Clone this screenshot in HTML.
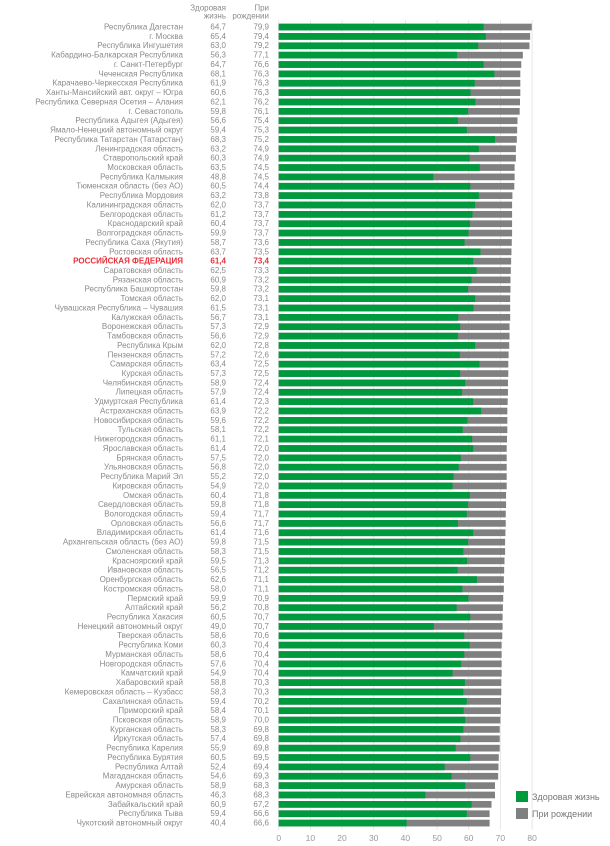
<!DOCTYPE html>
<html><head><meta charset="utf-8"><style>
html,body{margin:0;padding:0;background:#fff;}
svg{display:block;}
text{font-family:"Liberation Sans",sans-serif;font-size:8px;fill:#8a8a8a;text-anchor:end;dominant-baseline:central;}
.t{fill:#808080}.h{fill:#009a3e}
.rf text{fill:#e8303a;font-weight:bold}
.ax text{text-anchor:middle;fill:#999;font-size:8.5px}
.lg text{text-anchor:start;font-size:9px;fill:#777}
</style></head><body>
<svg width="610" height="846" viewBox="0 0 610 846" xmlns="http://www.w3.org/2000/svg">
<g stroke="#e2e2e2" stroke-width="0.8">
<line x1="278.7" y1="20" x2="278.7" y2="830"/><line x1="310.4" y1="20" x2="310.4" y2="830"/><line x1="342" y1="20" x2="342" y2="830"/><line x1="373.7" y1="20" x2="373.7" y2="830"/><line x1="405.4" y1="20" x2="405.4" y2="830"/><line x1="437.1" y1="20" x2="437.1" y2="830"/><line x1="468.7" y1="20" x2="468.7" y2="830"/><line x1="500.4" y1="20" x2="500.4" y2="830"/><line x1="532.1" y1="20" x2="532.1" y2="830"/>
</g>
<text x="226" y="8">Здоровая</text><text x="226" y="16">жизнь</text>
<text x="269" y="8">При</text><text x="269" y="16">рождении</text>
<g id="rows">
<g transform="translate(0,27)"><text x="183">Республика Дагестан</text><text x="226">64,7</text><text x="269">79,9</text><g transform="translate(278.7,0) scale(3.1667,1)"><rect class="t" y="-3.3" height="6.7" width="79.9"/><rect class="h" y="-3.3" height="6.7" width="64.7"/></g></g>
<g transform="translate(0,36.37)"><text x="183">г. Москва</text><text x="226">65,4</text><text x="269">79,4</text><g transform="translate(278.7,0) scale(3.1667,1)"><rect class="t" y="-3.3" height="6.7" width="79.4"/><rect class="h" y="-3.3" height="6.7" width="65.4"/></g></g>
<g transform="translate(0,45.73)"><text x="183">Республика Ингушетия</text><text x="226">63,0</text><text x="269">79,2</text><g transform="translate(278.7,0) scale(3.1667,1)"><rect class="t" y="-3.3" height="6.7" width="79.2"/><rect class="h" y="-3.3" height="6.7" width="63.0"/></g></g>
<g transform="translate(0,55.10)"><text x="183">Кабардино-Балкарская Республика</text><text x="226">56,3</text><text x="269">77,1</text><g transform="translate(278.7,0) scale(3.1667,1)"><rect class="t" y="-3.3" height="6.7" width="77.1"/><rect class="h" y="-3.3" height="6.7" width="56.3"/></g></g>
<g transform="translate(0,64.46)"><text x="183">г. Санкт-Петербург</text><text x="226">64,7</text><text x="269">76,6</text><g transform="translate(278.7,0) scale(3.1667,1)"><rect class="t" y="-3.3" height="6.7" width="76.6"/><rect class="h" y="-3.3" height="6.7" width="64.7"/></g></g>
<g transform="translate(0,73.83)"><text x="183">Чеченская Республика</text><text x="226">68,1</text><text x="269">76,3</text><g transform="translate(278.7,0) scale(3.1667,1)"><rect class="t" y="-3.3" height="6.7" width="76.3"/><rect class="h" y="-3.3" height="6.7" width="68.1"/></g></g>
<g transform="translate(0,83.19)"><text x="183">Карачаево-Черкесская Республика</text><text x="226">61,9</text><text x="269">76,3</text><g transform="translate(278.7,0) scale(3.1667,1)"><rect class="t" y="-3.3" height="6.7" width="76.3"/><rect class="h" y="-3.3" height="6.7" width="61.9"/></g></g>
<g transform="translate(0,92.56)"><text x="183">Ханты-Мансийский авт. округ – Югра</text><text x="226">60,6</text><text x="269">76,3</text><g transform="translate(278.7,0) scale(3.1667,1)"><rect class="t" y="-3.3" height="6.7" width="76.3"/><rect class="h" y="-3.3" height="6.7" width="60.6"/></g></g>
<g transform="translate(0,101.92)"><text x="183">Республика Северная Осетия – Алания</text><text x="226">62,1</text><text x="269">76,2</text><g transform="translate(278.7,0) scale(3.1667,1)"><rect class="t" y="-3.3" height="6.7" width="76.2"/><rect class="h" y="-3.3" height="6.7" width="62.1"/></g></g>
<g transform="translate(0,111.29)"><text x="183">г. Севастополь</text><text x="226">59,8</text><text x="269">76,1</text><g transform="translate(278.7,0) scale(3.1667,1)"><rect class="t" y="-3.3" height="6.7" width="76.1"/><rect class="h" y="-3.3" height="6.7" width="59.8"/></g></g>
<g transform="translate(0,120.65)"><text x="183">Республика Адыгея (Адыгея)</text><text x="226">56,6</text><text x="269">75,4</text><g transform="translate(278.7,0) scale(3.1667,1)"><rect class="t" y="-3.3" height="6.7" width="75.4"/><rect class="h" y="-3.3" height="6.7" width="56.6"/></g></g>
<g transform="translate(0,130.02)"><text x="183">Ямало-Ненецкий автономный округ</text><text x="226">59,4</text><text x="269">75,3</text><g transform="translate(278.7,0) scale(3.1667,1)"><rect class="t" y="-3.3" height="6.7" width="75.3"/><rect class="h" y="-3.3" height="6.7" width="59.4"/></g></g>
<g transform="translate(0,139.38)"><text x="183">Республика Татарстан (Татарстан)</text><text x="226">68,3</text><text x="269">75,2</text><g transform="translate(278.7,0) scale(3.1667,1)"><rect class="t" y="-3.3" height="6.7" width="75.2"/><rect class="h" y="-3.3" height="6.7" width="68.3"/></g></g>
<g transform="translate(0,148.75)"><text x="183">Ленинградская область</text><text x="226">63,2</text><text x="269">74,9</text><g transform="translate(278.7,0) scale(3.1667,1)"><rect class="t" y="-3.3" height="6.7" width="74.9"/><rect class="h" y="-3.3" height="6.7" width="63.2"/></g></g>
<g transform="translate(0,158.11)"><text x="183">Ставропольский край</text><text x="226">60,3</text><text x="269">74,9</text><g transform="translate(278.7,0) scale(3.1667,1)"><rect class="t" y="-3.3" height="6.7" width="74.9"/><rect class="h" y="-3.3" height="6.7" width="60.3"/></g></g>
<g transform="translate(0,167.48)"><text x="183">Московская область</text><text x="226">63,5</text><text x="269">74,5</text><g transform="translate(278.7,0) scale(3.1667,1)"><rect class="t" y="-3.3" height="6.7" width="74.5"/><rect class="h" y="-3.3" height="6.7" width="63.5"/></g></g>
<g transform="translate(0,176.84)"><text x="183">Республика Калмыкия</text><text x="226">48,8</text><text x="269">74,5</text><g transform="translate(278.7,0) scale(3.1667,1)"><rect class="t" y="-3.3" height="6.7" width="74.5"/><rect class="h" y="-3.3" height="6.7" width="48.8"/></g></g>
<g transform="translate(0,186.21)"><text x="183">Тюменская область (без АО)</text><text x="226">60,5</text><text x="269">74,4</text><g transform="translate(278.7,0) scale(3.1667,1)"><rect class="t" y="-3.3" height="6.7" width="74.4"/><rect class="h" y="-3.3" height="6.7" width="60.5"/></g></g>
<g transform="translate(0,195.57)"><text x="183">Республика Мордовия</text><text x="226">63,2</text><text x="269">73,8</text><g transform="translate(278.7,0) scale(3.1667,1)"><rect class="t" y="-3.3" height="6.7" width="73.8"/><rect class="h" y="-3.3" height="6.7" width="63.2"/></g></g>
<g transform="translate(0,204.94)"><text x="183">Калининградская область</text><text x="226">62,0</text><text x="269">73,7</text><g transform="translate(278.7,0) scale(3.1667,1)"><rect class="t" y="-3.3" height="6.7" width="73.7"/><rect class="h" y="-3.3" height="6.7" width="62.0"/></g></g>
<g transform="translate(0,214.3)"><text x="183">Белгородская область</text><text x="226">61,2</text><text x="269">73,7</text><g transform="translate(278.7,0) scale(3.1667,1)"><rect class="t" y="-3.3" height="6.7" width="73.7"/><rect class="h" y="-3.3" height="6.7" width="61.2"/></g></g>
<g transform="translate(0,223.67)"><text x="183">Краснодарский край</text><text x="226">60,4</text><text x="269">73,7</text><g transform="translate(278.7,0) scale(3.1667,1)"><rect class="t" y="-3.3" height="6.7" width="73.7"/><rect class="h" y="-3.3" height="6.7" width="60.4"/></g></g>
<g transform="translate(0,233.03)"><text x="183">Волгоградская область</text><text x="226">59,9</text><text x="269">73,7</text><g transform="translate(278.7,0) scale(3.1667,1)"><rect class="t" y="-3.3" height="6.7" width="73.7"/><rect class="h" y="-3.3" height="6.7" width="59.9"/></g></g>
<g transform="translate(0,242.4)"><text x="183">Республика Саха (Якутия)</text><text x="226">58,7</text><text x="269">73,6</text><g transform="translate(278.7,0) scale(3.1667,1)"><rect class="t" y="-3.3" height="6.7" width="73.6"/><rect class="h" y="-3.3" height="6.7" width="58.7"/></g></g>
<g transform="translate(0,251.76)"><text x="183">Ростовская область</text><text x="226">63,7</text><text x="269">73,5</text><g transform="translate(278.7,0) scale(3.1667,1)"><rect class="t" y="-3.3" height="6.7" width="73.5"/><rect class="h" y="-3.3" height="6.7" width="63.7"/></g></g>
<g class="rf" transform="translate(0,261.13)"><text x="183">РОССИЙСКАЯ ФЕДЕРАЦИЯ</text><text x="226">61,4</text><text x="269">73,4</text><g transform="translate(278.7,0) scale(3.1667,1)"><rect class="t" y="-3.3" height="6.7" width="73.4"/><rect class="h" y="-3.3" height="6.7" width="61.4"/></g></g>
<g transform="translate(0,270.49)"><text x="183">Саратовская область</text><text x="226">62,5</text><text x="269">73,3</text><g transform="translate(278.7,0) scale(3.1667,1)"><rect class="t" y="-3.3" height="6.7" width="73.3"/><rect class="h" y="-3.3" height="6.7" width="62.5"/></g></g>
<g transform="translate(0,279.86)"><text x="183">Рязанская область</text><text x="226">60,9</text><text x="269">73,2</text><g transform="translate(278.7,0) scale(3.1667,1)"><rect class="t" y="-3.3" height="6.7" width="73.2"/><rect class="h" y="-3.3" height="6.7" width="60.9"/></g></g>
<g transform="translate(0,289.22)"><text x="183">Республика Башкортостан</text><text x="226">59,8</text><text x="269">73,2</text><g transform="translate(278.7,0) scale(3.1667,1)"><rect class="t" y="-3.3" height="6.7" width="73.2"/><rect class="h" y="-3.3" height="6.7" width="59.8"/></g></g>
<g transform="translate(0,298.59)"><text x="183">Томская область</text><text x="226">62,0</text><text x="269">73,1</text><g transform="translate(278.7,0) scale(3.1667,1)"><rect class="t" y="-3.3" height="6.7" width="73.1"/><rect class="h" y="-3.3" height="6.7" width="62.0"/></g></g>
<g transform="translate(0,307.95)"><text x="183">Чувашская Республика – Чувашия</text><text x="226">61,5</text><text x="269">73,1</text><g transform="translate(278.7,0) scale(3.1667,1)"><rect class="t" y="-3.3" height="6.7" width="73.1"/><rect class="h" y="-3.3" height="6.7" width="61.5"/></g></g>
<g transform="translate(0,317.32)"><text x="183">Калужская область</text><text x="226">56,7</text><text x="269">73,1</text><g transform="translate(278.7,0) scale(3.1667,1)"><rect class="t" y="-3.3" height="6.7" width="73.1"/><rect class="h" y="-3.3" height="6.7" width="56.7"/></g></g>
<g transform="translate(0,326.68)"><text x="183">Воронежская область</text><text x="226">57,3</text><text x="269">72,9</text><g transform="translate(278.7,0) scale(3.1667,1)"><rect class="t" y="-3.3" height="6.7" width="72.9"/><rect class="h" y="-3.3" height="6.7" width="57.3"/></g></g>
<g transform="translate(0,336.05)"><text x="183">Тамбовская область</text><text x="226">56,6</text><text x="269">72,9</text><g transform="translate(278.7,0) scale(3.1667,1)"><rect class="t" y="-3.3" height="6.7" width="72.9"/><rect class="h" y="-3.3" height="6.7" width="56.6"/></g></g>
<g transform="translate(0,345.41)"><text x="183">Республика Крым</text><text x="226">62,0</text><text x="269">72,8</text><g transform="translate(278.7,0) scale(3.1667,1)"><rect class="t" y="-3.3" height="6.7" width="72.8"/><rect class="h" y="-3.3" height="6.7" width="62.0"/></g></g>
<g transform="translate(0,354.78)"><text x="183">Пензенская область</text><text x="226">57,2</text><text x="269">72,6</text><g transform="translate(278.7,0) scale(3.1667,1)"><rect class="t" y="-3.3" height="6.7" width="72.6"/><rect class="h" y="-3.3" height="6.7" width="57.2"/></g></g>
<g transform="translate(0,364.14)"><text x="183">Самарская область</text><text x="226">63,4</text><text x="269">72,5</text><g transform="translate(278.7,0) scale(3.1667,1)"><rect class="t" y="-3.3" height="6.7" width="72.5"/><rect class="h" y="-3.3" height="6.7" width="63.4"/></g></g>
<g transform="translate(0,373.51)"><text x="183">Курская область</text><text x="226">57,3</text><text x="269">72,5</text><g transform="translate(278.7,0) scale(3.1667,1)"><rect class="t" y="-3.3" height="6.7" width="72.5"/><rect class="h" y="-3.3" height="6.7" width="57.3"/></g></g>
<g transform="translate(0,382.87)"><text x="183">Челябинская область</text><text x="226">58,9</text><text x="269">72,4</text><g transform="translate(278.7,0) scale(3.1667,1)"><rect class="t" y="-3.3" height="6.7" width="72.4"/><rect class="h" y="-3.3" height="6.7" width="58.9"/></g></g>
<g transform="translate(0,392.24)"><text x="183">Липецкая область</text><text x="226">57,9</text><text x="269">72,4</text><g transform="translate(278.7,0) scale(3.1667,1)"><rect class="t" y="-3.3" height="6.7" width="72.4"/><rect class="h" y="-3.3" height="6.7" width="57.9"/></g></g>
<g transform="translate(0,401.6)"><text x="183">Удмуртская Республика</text><text x="226">61,4</text><text x="269">72,3</text><g transform="translate(278.7,0) scale(3.1667,1)"><rect class="t" y="-3.3" height="6.7" width="72.3"/><rect class="h" y="-3.3" height="6.7" width="61.4"/></g></g>
<g transform="translate(0,410.97)"><text x="183">Астраханская область</text><text x="226">63,9</text><text x="269">72,2</text><g transform="translate(278.7,0) scale(3.1667,1)"><rect class="t" y="-3.3" height="6.7" width="72.2"/><rect class="h" y="-3.3" height="6.7" width="63.9"/></g></g>
<g transform="translate(0,420.33)"><text x="183">Новосибирская область</text><text x="226">59,6</text><text x="269">72,2</text><g transform="translate(278.7,0) scale(3.1667,1)"><rect class="t" y="-3.3" height="6.7" width="72.2"/><rect class="h" y="-3.3" height="6.7" width="59.6"/></g></g>
<g transform="translate(0,429.7)"><text x="183">Тульская область</text><text x="226">58,1</text><text x="269">72,2</text><g transform="translate(278.7,0) scale(3.1667,1)"><rect class="t" y="-3.3" height="6.7" width="72.2"/><rect class="h" y="-3.3" height="6.7" width="58.1"/></g></g>
<g transform="translate(0,439.06)"><text x="183">Нижегородская область</text><text x="226">61,1</text><text x="269">72,1</text><g transform="translate(278.7,0) scale(3.1667,1)"><rect class="t" y="-3.3" height="6.7" width="72.1"/><rect class="h" y="-3.3" height="6.7" width="61.1"/></g></g>
<g transform="translate(0,448.43)"><text x="183">Ярославская область</text><text x="226">61,4</text><text x="269">72,0</text><g transform="translate(278.7,0) scale(3.1667,1)"><rect class="t" y="-3.3" height="6.7" width="72.0"/><rect class="h" y="-3.3" height="6.7" width="61.4"/></g></g>
<g transform="translate(0,457.79)"><text x="183">Брянская область</text><text x="226">57,5</text><text x="269">72,0</text><g transform="translate(278.7,0) scale(3.1667,1)"><rect class="t" y="-3.3" height="6.7" width="72.0"/><rect class="h" y="-3.3" height="6.7" width="57.5"/></g></g>
<g transform="translate(0,467.16)"><text x="183">Ульяновская область</text><text x="226">56,8</text><text x="269">72,0</text><g transform="translate(278.7,0) scale(3.1667,1)"><rect class="t" y="-3.3" height="6.7" width="72.0"/><rect class="h" y="-3.3" height="6.7" width="56.8"/></g></g>
<g transform="translate(0,476.52)"><text x="183">Республика Марий Эл</text><text x="226">55,2</text><text x="269">72,0</text><g transform="translate(278.7,0) scale(3.1667,1)"><rect class="t" y="-3.3" height="6.7" width="72.0"/><rect class="h" y="-3.3" height="6.7" width="55.2"/></g></g>
<g transform="translate(0,485.89)"><text x="183">Кировская область</text><text x="226">54,9</text><text x="269">72,0</text><g transform="translate(278.7,0) scale(3.1667,1)"><rect class="t" y="-3.3" height="6.7" width="72.0"/><rect class="h" y="-3.3" height="6.7" width="54.9"/></g></g>
<g transform="translate(0,495.25)"><text x="183">Омская область</text><text x="226">60,4</text><text x="269">71,8</text><g transform="translate(278.7,0) scale(3.1667,1)"><rect class="t" y="-3.3" height="6.7" width="71.8"/><rect class="h" y="-3.3" height="6.7" width="60.4"/></g></g>
<g transform="translate(0,504.62)"><text x="183">Свердловская область</text><text x="226">59,8</text><text x="269">71,8</text><g transform="translate(278.7,0) scale(3.1667,1)"><rect class="t" y="-3.3" height="6.7" width="71.8"/><rect class="h" y="-3.3" height="6.7" width="59.8"/></g></g>
<g transform="translate(0,513.98)"><text x="183">Вологодская область</text><text x="226">59,4</text><text x="269">71,7</text><g transform="translate(278.7,0) scale(3.1667,1)"><rect class="t" y="-3.3" height="6.7" width="71.7"/><rect class="h" y="-3.3" height="6.7" width="59.4"/></g></g>
<g transform="translate(0,523.35)"><text x="183">Орловская область</text><text x="226">56,6</text><text x="269">71,7</text><g transform="translate(278.7,0) scale(3.1667,1)"><rect class="t" y="-3.3" height="6.7" width="71.7"/><rect class="h" y="-3.3" height="6.7" width="56.6"/></g></g>
<g transform="translate(0,532.71)"><text x="183">Владимирская область</text><text x="226">61,4</text><text x="269">71,6</text><g transform="translate(278.7,0) scale(3.1667,1)"><rect class="t" y="-3.3" height="6.7" width="71.6"/><rect class="h" y="-3.3" height="6.7" width="61.4"/></g></g>
<g transform="translate(0,542.08)"><text x="183">Архангельская область (без АО)</text><text x="226">59,8</text><text x="269">71,5</text><g transform="translate(278.7,0) scale(3.1667,1)"><rect class="t" y="-3.3" height="6.7" width="71.5"/><rect class="h" y="-3.3" height="6.7" width="59.8"/></g></g>
<g transform="translate(0,551.44)"><text x="183">Смоленская область</text><text x="226">58,3</text><text x="269">71,5</text><g transform="translate(278.7,0) scale(3.1667,1)"><rect class="t" y="-3.3" height="6.7" width="71.5"/><rect class="h" y="-3.3" height="6.7" width="58.3"/></g></g>
<g transform="translate(0,560.81)"><text x="183">Красноярский край</text><text x="226">59,5</text><text x="269">71,3</text><g transform="translate(278.7,0) scale(3.1667,1)"><rect class="t" y="-3.3" height="6.7" width="71.3"/><rect class="h" y="-3.3" height="6.7" width="59.5"/></g></g>
<g transform="translate(0,570.17)"><text x="183">Ивановская область</text><text x="226">56,5</text><text x="269">71,2</text><g transform="translate(278.7,0) scale(3.1667,1)"><rect class="t" y="-3.3" height="6.7" width="71.2"/><rect class="h" y="-3.3" height="6.7" width="56.5"/></g></g>
<g transform="translate(0,579.54)"><text x="183">Оренбургская область</text><text x="226">62,6</text><text x="269">71,1</text><g transform="translate(278.7,0) scale(3.1667,1)"><rect class="t" y="-3.3" height="6.7" width="71.1"/><rect class="h" y="-3.3" height="6.7" width="62.6"/></g></g>
<g transform="translate(0,588.9)"><text x="183">Костромская область</text><text x="226">58,0</text><text x="269">71,1</text><g transform="translate(278.7,0) scale(3.1667,1)"><rect class="t" y="-3.3" height="6.7" width="71.1"/><rect class="h" y="-3.3" height="6.7" width="58.0"/></g></g>
<g transform="translate(0,598.27)"><text x="183">Пермский край</text><text x="226">59,9</text><text x="269">70,9</text><g transform="translate(278.7,0) scale(3.1667,1)"><rect class="t" y="-3.3" height="6.7" width="70.9"/><rect class="h" y="-3.3" height="6.7" width="59.9"/></g></g>
<g transform="translate(0,607.63)"><text x="183">Алтайский край</text><text x="226">56,2</text><text x="269">70,8</text><g transform="translate(278.7,0) scale(3.1667,1)"><rect class="t" y="-3.3" height="6.7" width="70.8"/><rect class="h" y="-3.3" height="6.7" width="56.2"/></g></g>
<g transform="translate(0,617.0)"><text x="183">Республика Хакасия</text><text x="226">60,5</text><text x="269">70,7</text><g transform="translate(278.7,0) scale(3.1667,1)"><rect class="t" y="-3.3" height="6.7" width="70.7"/><rect class="h" y="-3.3" height="6.7" width="60.5"/></g></g>
<g transform="translate(0,626.36)"><text x="183">Ненецкий автономный округ</text><text x="226">49,0</text><text x="269">70,7</text><g transform="translate(278.7,0) scale(3.1667,1)"><rect class="t" y="-3.3" height="6.7" width="70.7"/><rect class="h" y="-3.3" height="6.7" width="49.0"/></g></g>
<g transform="translate(0,635.73)"><text x="183">Тверская область</text><text x="226">58,6</text><text x="269">70,6</text><g transform="translate(278.7,0) scale(3.1667,1)"><rect class="t" y="-3.3" height="6.7" width="70.6"/><rect class="h" y="-3.3" height="6.7" width="58.6"/></g></g>
<g transform="translate(0,645.09)"><text x="183">Республика Коми</text><text x="226">60,3</text><text x="269">70,4</text><g transform="translate(278.7,0) scale(3.1667,1)"><rect class="t" y="-3.3" height="6.7" width="70.4"/><rect class="h" y="-3.3" height="6.7" width="60.3"/></g></g>
<g transform="translate(0,654.46)"><text x="183">Мурманская область</text><text x="226">58,6</text><text x="269">70,4</text><g transform="translate(278.7,0) scale(3.1667,1)"><rect class="t" y="-3.3" height="6.7" width="70.4"/><rect class="h" y="-3.3" height="6.7" width="58.6"/></g></g>
<g transform="translate(0,663.82)"><text x="183">Новгородская область</text><text x="226">57,6</text><text x="269">70,4</text><g transform="translate(278.7,0) scale(3.1667,1)"><rect class="t" y="-3.3" height="6.7" width="70.4"/><rect class="h" y="-3.3" height="6.7" width="57.6"/></g></g>
<g transform="translate(0,673.19)"><text x="183">Камчатский край</text><text x="226">54,9</text><text x="269">70,4</text><g transform="translate(278.7,0) scale(3.1667,1)"><rect class="t" y="-3.3" height="6.7" width="70.4"/><rect class="h" y="-3.3" height="6.7" width="54.9"/></g></g>
<g transform="translate(0,682.55)"><text x="183">Хабаровский край</text><text x="226">58,8</text><text x="269">70,3</text><g transform="translate(278.7,0) scale(3.1667,1)"><rect class="t" y="-3.3" height="6.7" width="70.3"/><rect class="h" y="-3.3" height="6.7" width="58.8"/></g></g>
<g transform="translate(0,691.92)"><text x="183">Кемеровская область – Кузбасс</text><text x="226">58,3</text><text x="269">70,3</text><g transform="translate(278.7,0) scale(3.1667,1)"><rect class="t" y="-3.3" height="6.7" width="70.3"/><rect class="h" y="-3.3" height="6.7" width="58.3"/></g></g>
<g transform="translate(0,701.28)"><text x="183">Сахалинская область</text><text x="226">59,4</text><text x="269">70,2</text><g transform="translate(278.7,0) scale(3.1667,1)"><rect class="t" y="-3.3" height="6.7" width="70.2"/><rect class="h" y="-3.3" height="6.7" width="59.4"/></g></g>
<g transform="translate(0,710.65)"><text x="183">Приморский край</text><text x="226">58,4</text><text x="269">70,1</text><g transform="translate(278.7,0) scale(3.1667,1)"><rect class="t" y="-3.3" height="6.7" width="70.1"/><rect class="h" y="-3.3" height="6.7" width="58.4"/></g></g>
<g transform="translate(0,720.01)"><text x="183">Псковская область</text><text x="226">58,9</text><text x="269">70,0</text><g transform="translate(278.7,0) scale(3.1667,1)"><rect class="t" y="-3.3" height="6.7" width="70.0"/><rect class="h" y="-3.3" height="6.7" width="58.9"/></g></g>
<g transform="translate(0,729.38)"><text x="183">Курганская область</text><text x="226">58,3</text><text x="269">69,8</text><g transform="translate(278.7,0) scale(3.1667,1)"><rect class="t" y="-3.3" height="6.7" width="69.8"/><rect class="h" y="-3.3" height="6.7" width="58.3"/></g></g>
<g transform="translate(0,738.74)"><text x="183">Иркутская область</text><text x="226">57,4</text><text x="269">69,8</text><g transform="translate(278.7,0) scale(3.1667,1)"><rect class="t" y="-3.3" height="6.7" width="69.8"/><rect class="h" y="-3.3" height="6.7" width="57.4"/></g></g>
<g transform="translate(0,748.11)"><text x="183">Республика Карелия</text><text x="226">55,9</text><text x="269">69,8</text><g transform="translate(278.7,0) scale(3.1667,1)"><rect class="t" y="-3.3" height="6.7" width="69.8"/><rect class="h" y="-3.3" height="6.7" width="55.9"/></g></g>
<g transform="translate(0,757.47)"><text x="183">Республика Бурятия</text><text x="226">60,5</text><text x="269">69,5</text><g transform="translate(278.7,0) scale(3.1667,1)"><rect class="t" y="-3.3" height="6.7" width="69.5"/><rect class="h" y="-3.3" height="6.7" width="60.5"/></g></g>
<g transform="translate(0,766.84)"><text x="183">Республика Алтай</text><text x="226">52,4</text><text x="269">69,4</text><g transform="translate(278.7,0) scale(3.1667,1)"><rect class="t" y="-3.3" height="6.7" width="69.4"/><rect class="h" y="-3.3" height="6.7" width="52.4"/></g></g>
<g transform="translate(0,776.2)"><text x="183">Магаданская область</text><text x="226">54,6</text><text x="269">69,3</text><g transform="translate(278.7,0) scale(3.1667,1)"><rect class="t" y="-3.3" height="6.7" width="69.3"/><rect class="h" y="-3.3" height="6.7" width="54.6"/></g></g>
<g transform="translate(0,785.57)"><text x="183">Амурская область</text><text x="226">58,9</text><text x="269">68,3</text><g transform="translate(278.7,0) scale(3.1667,1)"><rect class="t" y="-3.3" height="6.7" width="68.3"/><rect class="h" y="-3.3" height="6.7" width="58.9"/></g></g>
<g transform="translate(0,794.93)"><text x="183">Еврейская автономная область</text><text x="226">46,3</text><text x="269">68,3</text><g transform="translate(278.7,0) scale(3.1667,1)"><rect class="t" y="-3.3" height="6.7" width="68.3"/><rect class="h" y="-3.3" height="6.7" width="46.3"/></g></g>
<g transform="translate(0,804.3)"><text x="183">Забайкальский край</text><text x="226">60,9</text><text x="269">67,2</text><g transform="translate(278.7,0) scale(3.1667,1)"><rect class="t" y="-3.3" height="6.7" width="67.2"/><rect class="h" y="-3.3" height="6.7" width="60.9"/></g></g>
<g transform="translate(0,813.66)"><text x="183">Республика Тыва</text><text x="226">59,4</text><text x="269">66,6</text><g transform="translate(278.7,0) scale(3.1667,1)"><rect class="t" y="-3.3" height="6.7" width="66.6"/><rect class="h" y="-3.3" height="6.7" width="59.4"/></g></g>
<g transform="translate(0,823.03)"><text x="183">Чукотский автономный округ</text><text x="226">40,4</text><text x="269">66,6</text><g transform="translate(278.7,0) scale(3.1667,1)"><rect class="t" y="-3.3" height="6.7" width="66.6"/><rect class="h" y="-3.3" height="6.7" width="40.4"/></g></g>
</g>
<g class="ax">
<text x="278.7" y="838">0</text><text x="310.4" y="838">10</text><text x="342" y="838">20</text><text x="373.7" y="838">30</text><text x="405.4" y="838">40</text><text x="437.1" y="838">50</text><text x="468.7" y="838">60</text><text x="500.4" y="838">70</text><text x="532.1" y="838">80</text>
</g>
<g class="lg">
<rect x="516" y="791" width="12" height="11" fill="#009a3e"/>
<text x="532" y="797">Здоровая жизнь</text>
<rect x="516" y="808" width="12" height="11" fill="#808080"/>
<text x="532" y="814">При рождении</text>
</g>
</svg>
</body></html>
